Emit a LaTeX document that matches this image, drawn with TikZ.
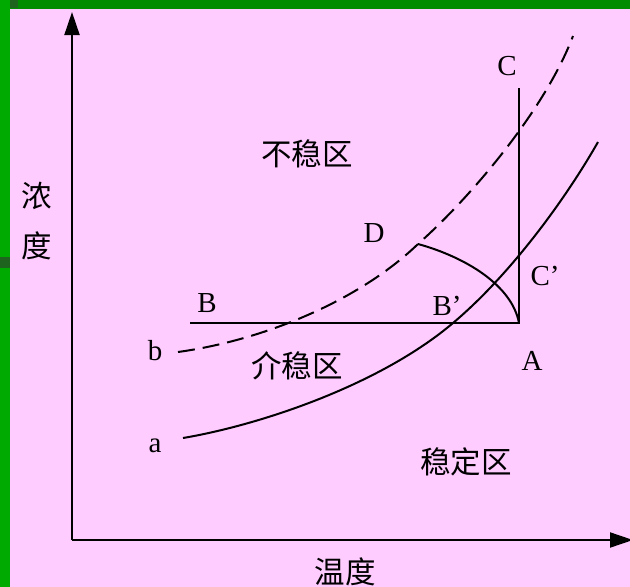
\documentclass[tikz,border=0pt]{standalone}
\usepackage{fontspec}
\setmainfont{Liberation Serif}
\newfontfamily\cjk{Noto Sans CJK SC}
\definecolor{slidepink}{RGB}{255,204,255}
\definecolor{barleft}{RGB}{0,170,0}
\definecolor{bartop}{RGB}{0,140,0}
\definecolor{bardark}{RGB}{30,100,30}
\usetikzlibrary{arrows.meta}

\begin{document}
\begin{tikzpicture}[x=1pt, y=-1pt, line width=2pt,
    lbl/.style={font=\fontsize{29}{34}\selectfont, inner sep=0pt, anchor=base},
    zone/.style={font=\cjk\fontsize{30.5}{36}\selectfont, inner sep=0pt},
    axis/.style={-{Triangle[length=23pt, width=15pt]}}]
  % Background and bars
  \useasboundingbox (0,0) rectangle (630,587);
  \fill[slidepink] (0,0) rectangle (630,587);
  \fill[barleft] (0,0) rectangle (10,587);
  \fill[bartop] (10,0) rectangle (630,9);
  \fill[bardark] (10,0) rectangle (18,8);
  \fill[bardark] (0,257) rectangle (10,268);
  % Axes
  \coordinate (O) at (72,540);
  \coordinate (ytip) at (72,12);
  \coordinate (xtip) at (633,540);
  \draw[axis] (O) -- (ytip);
  \draw[axis] (O) -- (xtip);
  \node[zone] (nong) at (37,196) {浓};
  \node[zone] (du) at (37,246) {度};
  \node[zone] (wendu) at (345,572) {温度};
  % Curve a (solid) and curve b (dashed)
  \coordinate (a0) at (183,438);
  \coordinate (a1) at (453,323);
  \coordinate (a2) at (598,142);
  \draw (a0) .. controls (260,425) and (380,385) .. (a1)
             .. controls (510,275) and (565,200) .. (a2);
  \coordinate (b0) at (178,352);
  \coordinate (D) at (418,244);
  \coordinate (b2) at (573,36);
  \draw[dash pattern=on 17pt off 8pt] (b0) .. controls (265,340) and (360,300) .. (D)
             .. controls (470,198) and (545,110) .. (b2);
  % Cooling paths
  \coordinate (A) at (519,323);
  \coordinate (B) at (190,323);
  \coordinate (C) at (519,88);
  \draw (B) -- (A) -- (C);
  \draw (D) .. controls (465,257) and (512,285) .. (A);
  % Point labels
  \foreach \name/\x/\y/\txt in {lC/507/75/C, lB/207/312/B, lBp/447/315/B’,
      lCp/545/285/C’, lD/374/242/D, lA/532/370/A, lb/155/360/b, la/155/452/a}
    \node[lbl] (\name) at (\x,\y) {\txt};
  % Regions
  \node[zone] (unstable) at (307,154) {不稳区};
  \node[zone] (meta) at (297,366) {介稳区};
  \node[zone] (stable) at (466,462) {稳定区};
\end{tikzpicture}
\end{document}
